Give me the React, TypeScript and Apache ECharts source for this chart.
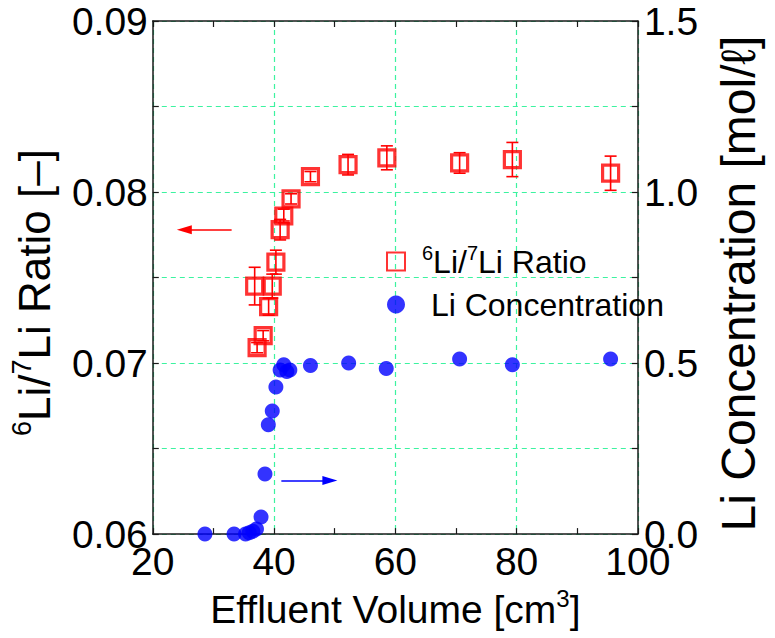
import React, { useEffect, useRef } from "react";
import * as echarts from "echarts";

// 6Li/7Li ratio (left axis) with error bars
const ratioVolume = [36.8, 37.2, 38.2, 39.1, 39.7, 40.3, 41.0, 41.6, 42.8, 46.0, 52.2, 58.6, 70.6, 79.3, 95.5];
const ratioValue = [0.0745, 0.0709, 0.0716, 0.0733, 0.0745, 0.0759, 0.0778, 0.0786, 0.0796, 0.0809, 0.0816, 0.0820, 0.0817, 0.0819, 0.0811];
const ratioError = [0.0011, 0.0003, 0.0003, 0.0005, 0.0007, 0.0007, 0.0006, 0.0004, 0.0003, 0.0003, 0.0006, 0.0007, 0.0006, 0.0010, 0.0010];

// Li concentration (right axis)
const concVolume = [28.6, 33.4, 35.3, 35.9, 36.5, 37.1, 37.85, 38.5, 39.05, 39.7, 40.3, 41.0, 41.6, 42.1, 42.6, 46.0, 52.3, 58.5, 70.6, 79.3, 95.5];
const concValue = [0.0, 0.0, 0.0, 0.004, 0.008, 0.015, 0.05, 0.176, 0.32, 0.36, 0.43, 0.48, 0.495, 0.475, 0.48, 0.493, 0.50, 0.484, 0.512, 0.495, 0.512];

// axis settings
const xMin = 20, xMax = 100, xStep = 20;
const yLeftMin = 0.06, yLeftMax = 0.09, yLeftStep = 0.01;
const yRightMin = 0, yRightMax = 1.5, yRightStep = 0.5;

// annotation arrows [x1, y1, x2, y2] in data coordinates
const redArrow = [33.0, 0.0778, 25.2, 0.0778];
const blueArrow = [41.2, 0.157, 49.2, 0.157];

const FONT = "'Liberation Sans', Arial, Helvetica, sans-serif";
const GRID_COLOR = "#3cf3a0";
const AXIS_COLOR = "#1a1a1a";

export default function App() {
  const ref = useRef<HTMLDivElement>(null);
  useEffect(() => {
    document.body.style.margin = "0";
    if (!ref.current) return;
    const chart = echarts.init(ref.current, null, { renderer: "svg" });
    const tickFont = { fontFamily: FONT, fontSize: 39, color: "#000" };
    const mkName = (fs: number, pad: number[]) => ({
      fontFamily: FONT,
      fontSize: fs,
      color: "#000",
      lineHeight: Math.round(fs * 1.2),
      padding: pad,
      rich: {
        sup: { fontFamily: FONT, fontSize: Math.round(fs * 0.62), color: "#000", verticalAlign: "top" as const, lineHeight: Math.round(fs * 1.2) },
      },
    });
    const axisLine = { show: true, lineStyle: { color: AXIS_COLOR, width: 1.5 } };
    const axisTick = { show: true, inside: true, length: 6, lineStyle: { color: AXIS_COLOR, width: 1.2 } };
    const minorTick = { show: true, splitNumber: 2, length: 6, lineStyle: { color: AXIS_COLOR, width: 1.2 } };
    const dashed = { color: GRID_COLOR, width: 1.2, type: [5, 4] as number[] };

    const errData = ratioVolume.map((v, i) => [v, ratioValue[i] - ratioError[i], ratioValue[i] + ratioError[i]]);

    chart.setOption({
      animation: false,
      grid: { left: 145, right: 101, top: 21, bottom: 92, containLabel: false },
      legend: {
        orient: "vertical",
        left: 381,
        top: 238,
        itemWidth: 18,
        itemHeight: 18,
        itemGap: 6,
        selectedMode: false,
        data: ["ratio", "conc"],
        formatter: (name: string) => (name === "ratio" ? "{sup|6}Li/{sup|7}Li Ratio" : " Li Concentration"),
        textStyle: {
          fontFamily: FONT,
          fontSize: 32,
          color: "#000",
          lineHeight: 37,
          padding: [0, 0, 0, 12],
          rich: { sup: { fontFamily: FONT, fontSize: 20, color: "#000", verticalAlign: "top", lineHeight: 37 } },
        },
      },
      xAxis: [
        {
          type: "value",
          min: xMin,
          max: xMax,
          interval: xStep,
          position: "bottom",
          name: "Effluent Volume [cm{sup|3}]",
          nameLocation: "middle",
          nameGap: 41,
          nameTextStyle: mkName(39, [0, 0, 0, 0]),
          axisLine,
          axisTick,
          minorTick,
          axisLabel: { ...tickFont, margin: 8 },
          splitLine: { show: true, lineStyle: dashed },
        },
        {
          type: "value",
          min: xMin,
          max: xMax,
          interval: xStep,
          position: "top",
          axisLine,
          axisTick,
          minorTick,
          axisLabel: { show: false },
          splitLine: { show: false },
        },
      ],
      yAxis: [
        {
          type: "value",
          min: yLeftMin,
          max: yLeftMax,
          interval: yLeftStep,
          position: "left",
          name: "{sup|6}Li/{sup|7}Li Ratio [\u2013]",
          nameLocation: "middle",
          nameRotate: 90,
          nameGap: 74,
          nameTextStyle: mkName(44, [0, 30, 0, 0]),
          axisLine,
          axisTick,
          minorTick,
          axisLabel: { ...tickFont, margin: 5, formatter: (v: number) => v.toFixed(2) },
          splitLine: { show: true, lineStyle: dashed },
          minorSplitLine: { show: true, lineStyle: dashed },
        },
        {
          type: "value",
          min: yRightMin,
          max: yRightMax,
          interval: yRightStep,
          position: "right",
          name: "Li Concentration [mol/\u2113]",
          nameLocation: "middle",
          nameRotate: 90,
          nameGap: 54,
          nameTextStyle: mkName(48, [0, 12, 0, 0]),
          axisLine,
          axisTick,
          minorTick,
          axisLabel: { ...tickFont, margin: 6, formatter: (v: number) => v.toFixed(1) },
          splitLine: { show: false },
        },
      ],
      series: [
        {
          name: "errbar",
          type: "custom",
          xAxisIndex: 0,
          yAxisIndex: 0,
          data: errData,
          z: 2,
          silent: true,
          renderItem: (params: any, api: any) => {
            const x = api.value(0);
            const lo = api.coord([x, api.value(1)]);
            const hi = api.coord([x, api.value(2)]);
            const w = 6;
            const style = { stroke: "#ff0000", lineWidth: 1.6, fill: "none" };
            return {
              type: "group",
              children: [
                { type: "line", shape: { x1: lo[0], y1: lo[1], x2: hi[0], y2: hi[1] }, style },
                { type: "line", shape: { x1: lo[0] - w, y1: lo[1], x2: lo[0] + w, y2: lo[1] }, style },
                { type: "line", shape: { x1: hi[0] - w, y1: hi[1], x2: hi[0] + w, y2: hi[1] }, style },
              ],
            };
          },
        },
        {
          name: "ratio",
          type: "scatter",
          xAxisIndex: 0,
          yAxisIndex: 0,
          z: 3,
          symbol: "rect",
          symbolSize: 16,
          itemStyle: { color: "rgba(255,255,255,0)", borderColor: "#ff0000", borderWidth: 3.2 },
          data: ratioVolume.map((v, i) => [v, ratioValue[i]]),
          markLine: {
            silent: true,
            symbol: ["none", "triangle"],
            symbolSize: [9, 15],
            label: { show: false },
            lineStyle: { color: "#ff0000", width: 1.5, type: "solid" },
            data: [[{ coord: [redArrow[0], redArrow[1]] }, { coord: [redArrow[2], redArrow[3]] }]],
          },
        },
        {
          name: "conc",
          type: "scatter",
          xAxisIndex: 0,
          yAxisIndex: 1,
          z: 3,
          symbol: "circle",
          symbolSize: 15,
          itemStyle: { color: "#0000ff" },
          data: concVolume.map((v, i) => [v, concValue[i]]),
          markLine: {
            silent: true,
            symbol: ["none", "triangle"],
            symbolSize: [9, 15],
            label: { show: false },
            lineStyle: { color: "#0000ff", width: 1.5, type: "solid" },
            data: [[{ coord: [blueArrow[0], blueArrow[1]] }, { coord: [blueArrow[2], blueArrow[3]] }]],
          },
        },
      ],
    });
    return () => chart.dispose();
  }, []);
  return <div ref={ref} style={{ width: 775, height: 638 }} />;
}
